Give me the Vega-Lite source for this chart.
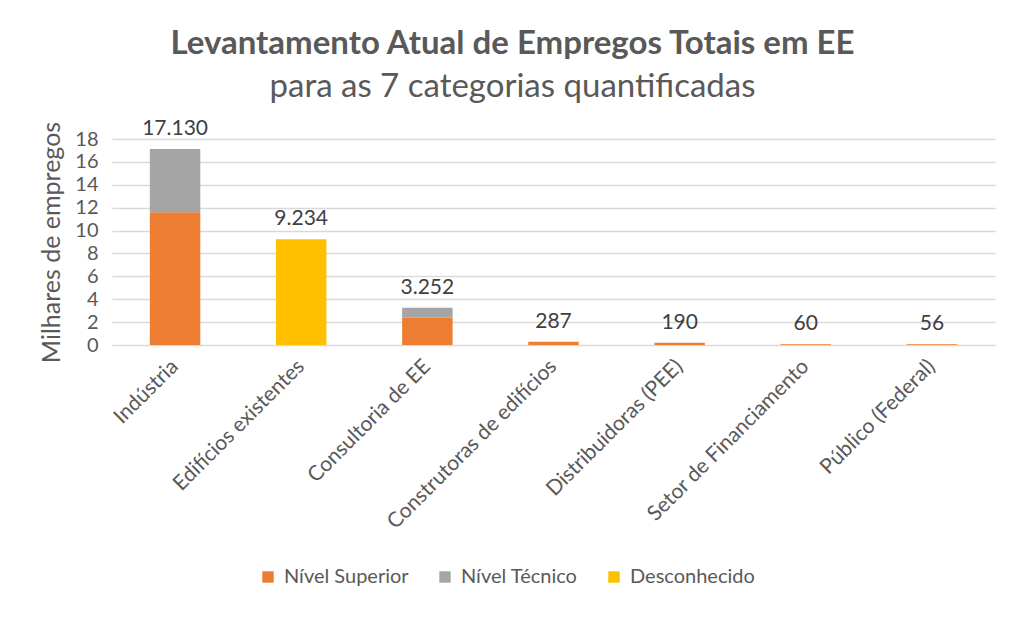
{
  "$schema": "https://vega.github.io/schema/vega-lite/v6.json",
  "width": 883,
  "height": 206,
  "autosize": "none",
  "padding": {"left": 112, "top": 139, "right": 29, "bottom": 275},
  "background": "white",
  "config": {
    "view": {"stroke": null},
    "axisY": {
      "titleFont": "Lato",
      "titleFontSize": 25,
      "titleFontWeight": "normal",
      "titleColor": "#595959",
      "titlePadding": 10,
      "labelOverlap": false,
      "labelFont": "Lato",
      "labelFontSize": 20,
      "labelColor": "#595959",
      "labelPadding": 14,
      "ticks": false,
      "domain": false,
      "gridColor": "#d9d9d9",
      "gridWidth": 1.5
    }
  },
  "title": {
    "text": "Levantamento Atual de Empregos Totais em EE",
    "subtitle": "para as 7 categorias quantificadas",
    "font": "Lato",
    "fontSize": 33,
    "fontWeight": "bold",
    "color": "#595959",
    "subtitleFont": "Lato",
    "subtitleFontSize": 33,
    "subtitleColor": "#595959",
    "subtitlePadding": 10,
    "anchor": "middle",
    "dx": -41,
    "offset": 14
  },
  "datasets": {
    "bars": [
      {"categoria": "Indústria", "nivel": "Nível Superior", "ordem": 1, "valor": 11.6},
      {"categoria": "Indústria", "nivel": "Nível Técnico", "ordem": 2, "valor": 5.53},
      {"categoria": "Edifícios existentes", "nivel": "Desconhecido", "ordem": 3, "valor": 9.234},
      {"categoria": "Consultoria de EE", "nivel": "Nível Superior", "ordem": 1, "valor": 2.4},
      {"categoria": "Consultoria de EE", "nivel": "Nível Técnico", "ordem": 2, "valor": 0.852},
      {"categoria": "Construtoras de edifícios", "nivel": "Nível Superior", "ordem": 1, "valor": 0.287},
      {"categoria": "Distribuidoras (PEE)", "nivel": "Nível Superior", "ordem": 1, "valor": 0.19},
      {"categoria": "Setor de Financiamento", "nivel": "Nível Superior", "ordem": 1, "valor": 0.06},
      {"categoria": "Público (Federal)", "nivel": "Nível Superior", "ordem": 1, "valor": 0.056}
    ],
    "totais": [
      {"categoria": "Indústria", "total": 17.13, "rotulo": "17.130"},
      {"categoria": "Edifícios existentes", "total": 9.234, "rotulo": "9.234"},
      {"categoria": "Consultoria de EE", "total": 3.252, "rotulo": "3.252"},
      {"categoria": "Construtoras de edifícios", "total": 0.287, "rotulo": "287"},
      {"categoria": "Distribuidoras (PEE)", "total": 0.19, "rotulo": "190"},
      {"categoria": "Setor de Financiamento", "total": 0.06, "rotulo": "60"},
      {"categoria": "Público (Federal)", "total": 0.056, "rotulo": "56"}
    ]
  },
  "encoding": {
    "x": {
      "field": "categoria",
      "type": "nominal",
      "sort": null,
      "scale": {"paddingInner": 0.6, "paddingOuter": 0.3},
      "axis": {
        "title": null,
        "labelAngle": -45,
        "labelAlign": "right",
        "labelBaseline": "middle",
        "labelFont": "Lato",
        "labelFontSize": 21,
        "labelColor": "#595959",
        "labelPadding": 18,
        "labelLimit": 0,
        "labelOverlap": false,
        "ticks": false,
        "domain": false,
        "grid": false
      }
    }
  },
  "layer": [
    {
      "data": {"name": "bars"},
      "mark": {"type": "bar"},
      "encoding": {
        "y": {
          "field": "valor",
          "type": "quantitative",
          "stack": "zero",
          "scale": {"domain": [0, 18]},
          "axis": {
            "title": "Milhares de empregos",
            "values": [0, 2, 4, 6, 8, 10, 12, 14, 16, 18]
          }
        },
        "color": {
          "field": "nivel",
          "type": "nominal",
          "scale": {
            "domain": ["Nível Superior", "Nível Técnico", "Desconhecido"],
            "range": ["#ED7D31", "#A5A5A5", "#FFC000"]
          },
          "legend": {
            "title": null,
            "orient": "none",
            "direction": "horizontal",
            "legendX": 146,
            "legendY": 428,
            "symbolType": "square",
            "symbolSize": 130,
            "symbolStrokeWidth": 0,
            "labelFont": "Lato",
            "labelFontSize": 20,
            "labelColor": "#595959",
            "columnPadding": 26,
            "labelOffset": 6
          }
        },
        "order": {"field": "ordem", "type": "quantitative"}
      }
    },
    {
      "data": {"name": "totais"},
      "mark": {"type": "text", "baseline": "bottom", "dy": -10, "font": "Lato", "fontSize": 21, "color": "#404040"},
      "encoding": {
        "y": {
          "field": "total",
          "type": "quantitative",
          "scale": {"domain": [0, 18]},
          "axis": {
            "title": "Milhares de empregos",
            "values": [0, 2, 4, 6, 8, 10, 12, 14, 16, 18]
          }
        },
        "text": {"field": "rotulo"}
      }
    }
  ]
}
